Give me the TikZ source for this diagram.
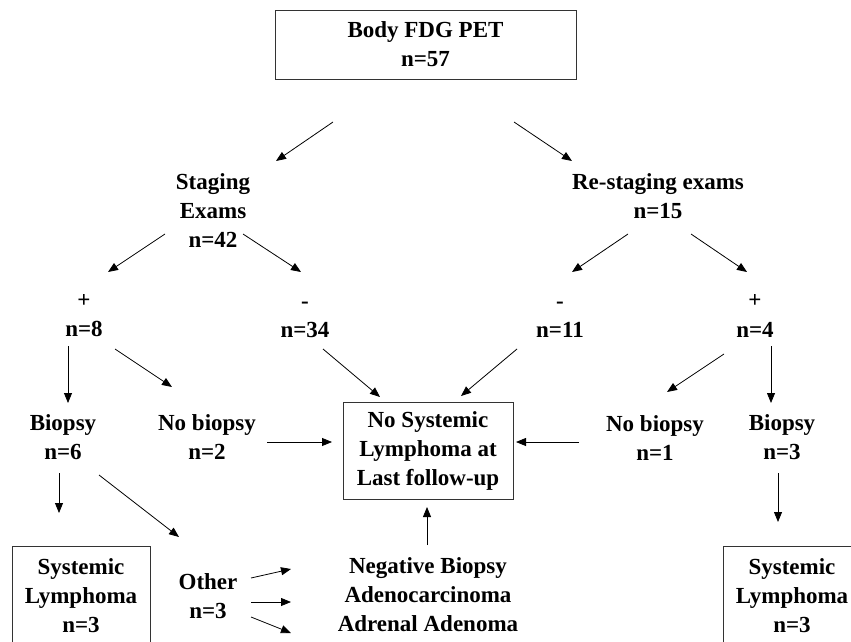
\documentclass[tikz,border=0pt]{standalone}
\usepackage{fontspec}
\setmainfont{Liberation Serif}
\usetikzlibrary{arrows.meta}
\begin{document}
\begin{tikzpicture}[x=1pt,y=-1pt,
    txt/.style={font=\fontsize{23}{29}\selectfont\bfseries, align=center, inner sep=0pt},
    framed/.style={txt, draw=black!80, line width=0.9pt},
    arr/.style={-{Triangle[length=10pt,width=8pt]}, line width=0.8pt}]
    \useasboundingbox (0,0) rectangle (851,642);
    \clip (0,0) rectangle (851,642);

    % levels
    \node[framed, minimum width=301, minimum height=69] (top) at (425.5,44.5) {Body FDG PET\\n=57};
    \node[txt] (stg) at (213,211) {Staging\\Exams\\n=42};
    \node[txt] (rst) at (658,196.5) {Re-staging exams\\n=15};
    \node[txt] (spos) at (84,316) {+\\n=8};
    \node[txt] (sneg) at (305,320) {-\\n=34};
    \node[txt] (rneg) at (560,320) {-\\n=11};
    \node[txt] (rpos) at (755,316) {+\\n=4};
    \node[txt] (sbio) at (63,437) {Biopsy\\n=6};
    \node[txt] (snob) at (207,437) {No biopsy\\n=2};
    \node[txt] (rnob) at (655,438) {No biopsy\\n=1};
    \node[txt] (rbio) at (782,437) {Biopsy\\n=3};
    \node[framed, minimum width=170, minimum height=97] (res) at (428,450.5) {No Systemic\\Lymphoma at\\Last follow-up};
    \node[framed, minimum width=138, minimum height=100] (slym) at (81,596) {Systemic\\Lymphoma\\n=3};
    \node[framed, minimum width=138, minimum height=100] (rlym) at (792,596) {Systemic\\Lymphoma\\n=3};
    \node[txt] (oth) at (208,596) {Other\\n=3};
    \node[txt] (neg) at (428,595) {Negative Biopsy\\Adenocarcinoma\\Adrenal Adenoma};

    % arrows
    \draw[arr] ([shift={(-92.5,77.5)}]top.center) -- ([shift={(63,-50)}]stg.center);
    \draw[arr] ([shift={(88.5,77.5)}]top.center) -- ([shift={(-86,-35.5)}]rst.center);
    \draw[arr] ([shift={(-48,23)}]stg.center) -- ([shift={(24,-44)}]spos.center);
    \draw[arr] ([shift={(30,23)}]stg.center) -- ([shift={(-4,-48)}]sneg.center);
    \draw[arr] ([shift={(-30,37.5)}]rst.center) -- ([shift={(12,-48)}]rneg.center);
    \draw[arr] ([shift={(33,37.5)}]rst.center) -- ([shift={(-8,-44)}]rpos.center);
    \draw[arr] ([shift={(-16,30)}]spos.center) -- ([shift={(5,-34)}]sbio.center);
    \draw[arr] ([shift={(31,33)}]spos.center) -- ([shift={(-35,-50)}]snob.center);
    \draw[arr] ([shift={(18,29)}]sneg.center) -- ([shift={(-48,-53.5)}]res.center);
    \draw[arr] ([shift={(-43,29)}]rneg.center) -- ([shift={(33,-54.5)}]res.center);
    \draw[arr] ([shift={(-31,38)}]rpos.center) -- ([shift={(12,-46)}]rnob.center);
    \draw[arr] ([shift={(16,30)}]rpos.center) -- ([shift={(-11,-34)}]rbio.center);
    \draw[arr] ([shift={(60,5)}]snob.center) -- ([shift={(-96,-8.5)}]res.center);
    \draw[arr] ([shift={(-76,4)}]rnob.center) -- ([shift={(88,-8.5)}]res.center);
    \draw[arr] ([shift={(-4,36)}]sbio.center) -- ([shift={(-22,-83)}]slym.center);
    \draw[arr] ([shift={(36,38)}]sbio.center) -- ([shift={(-29,-59)}]oth.center);
    \draw[arr] ([shift={(-4,36)}]rbio.center) -- ([shift={(-14,-74)}]rlym.center);
    \draw[arr] ([shift={(-1,-50)}]neg.center) -- ([shift={(-1,56.5)}]res.center);
    \foreach \a/\b in {-18/-26, 6/7, 21/38}
        \draw[arr] ([shift={(43,\a)}]oth.center) -- ([shift={(-137,\b)}]neg.center);
\end{tikzpicture}
\end{document}
